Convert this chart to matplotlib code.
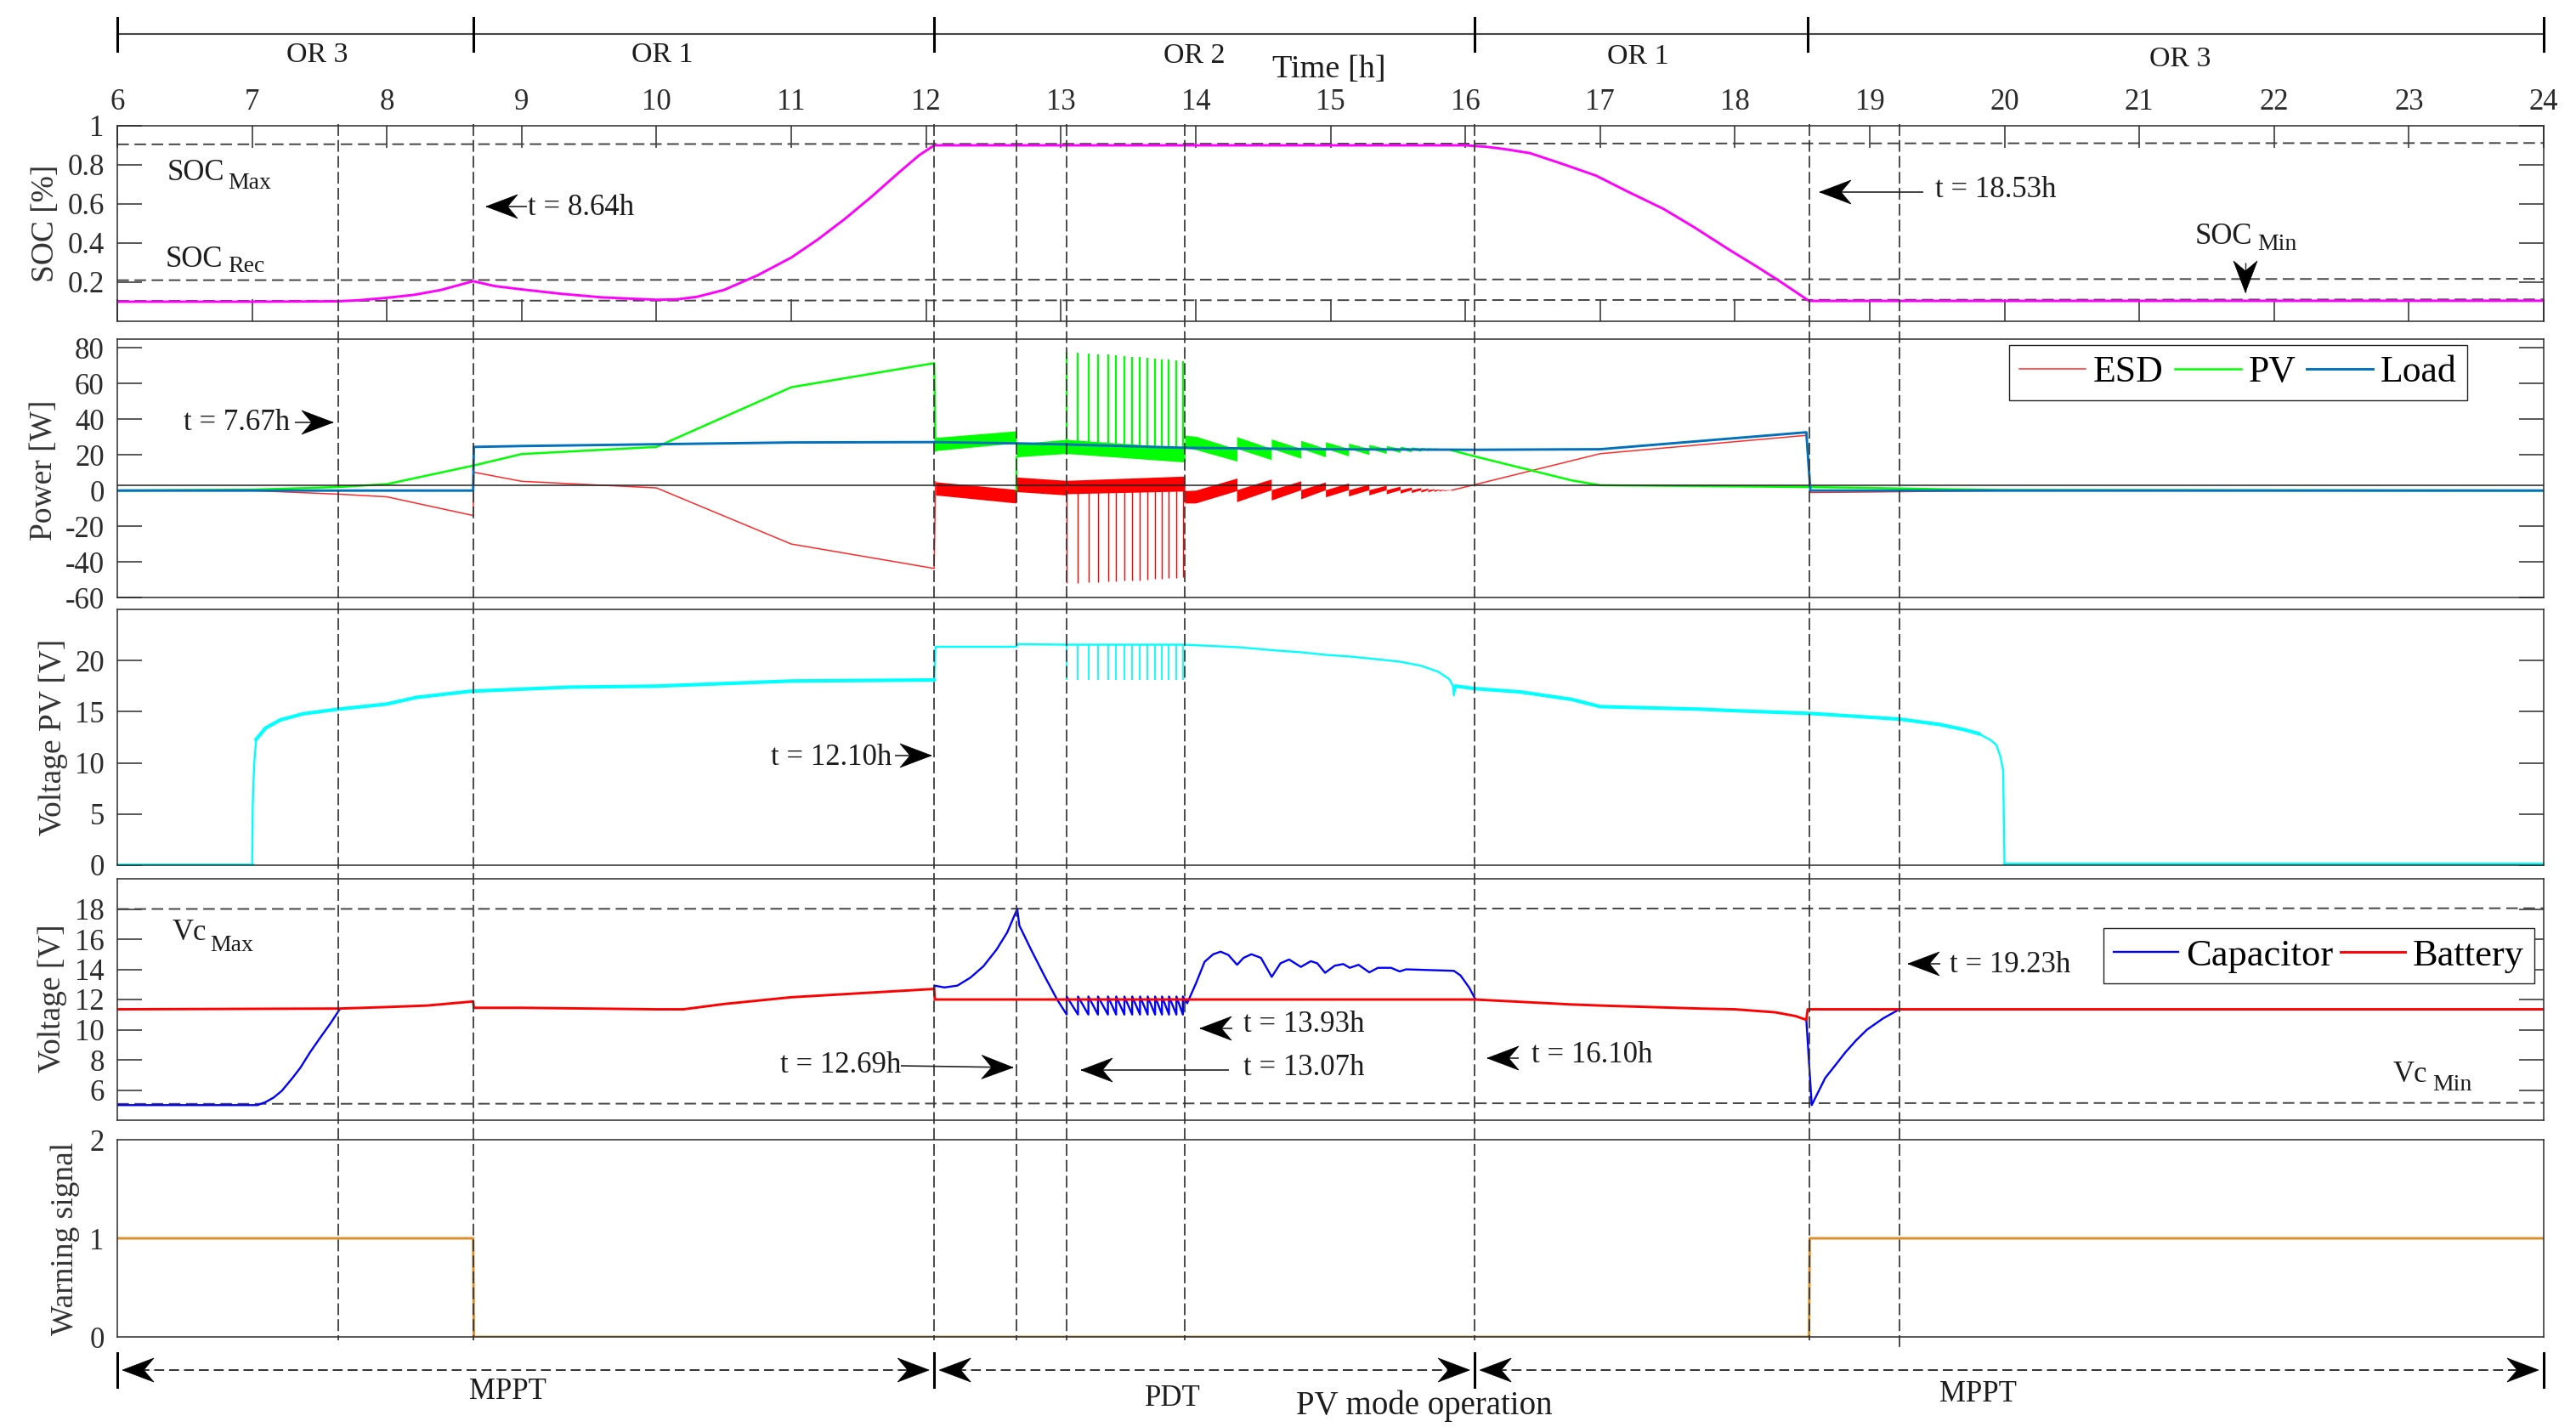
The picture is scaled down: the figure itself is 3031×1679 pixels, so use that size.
import numpy as np
import matplotlib
matplotlib.use("Agg")
import matplotlib.pyplot as plt
from matplotlib.patches import Polygon

plt.rcParams['font.family'] = ['Liberation Serif', 'DejaVu Serif']
plt.rcParams['axes.unicode_minus'] = False

W, H = 3031, 1679
X0, X1 = 138, 2993
DARK = '#2b2b2b'

# event times (dashed verticals), hours
event_t = [7.64, 8.64, 12.06, 12.67, 13.04, 13.92, 16.07, 18.55, 19.22]
segment_t = [6, 8.64, 12.06, 16.07, 18.54, 24]
segment_labels = ['OR 3', 'OR 1', 'OR 2', 'OR 1', 'OR 3']

# SOC
soc_t = [6, 7, 7.64, 7.8, 8, 8.2, 8.4, 8.64, 8.8, 9, 9.3, 9.6, 10, 10.15, 10.3, 10.5, 10.75, 11, 11.2, 11.4, 11.6,
         11.8, 11.95, 12.06, 13, 15, 16, 16.15, 16.3, 16.48, 16.72, 16.97, 17.2, 17.47, 17.7, 17.96, 18.15, 18.33,
         18.55, 20, 24]
soc_v = [0.10, 0.10, 0.102, 0.108, 0.12, 0.135, 0.16, 0.205, 0.18, 0.163, 0.14, 0.122, 0.11, 0.112, 0.125, 0.16,
         0.235, 0.326, 0.42, 0.525, 0.64, 0.762, 0.85, 0.90, 0.90, 0.90, 0.90, 0.893, 0.88, 0.86, 0.805, 0.745, 0.665,
         0.575, 0.48, 0.365, 0.285, 0.206, 0.104, 0.104, 0.105]
soc_limit_max = [0.905, 0.912]
soc_limit_rec = [0.21, 0.217]
soc_limit_min = [0.104, 0.112]

# power
pv_t = [6, 7, 7.64, 8, 8.64, 9, 10, 11, 12.06, 12.07]
pv_w = [0, 0.5, 2, 3.6, 14, 20.5, 24.5, 58, 71.5, 22.4]
pv_late_t = [15.9, 16.07, 16.79, 17, 18.53, 19, 19.5, 20, 24]
pv_late_w = [22.6, 19.2, 5.7, 3, 2, 1.5, 0.8, 0.3, 0]
esd_t = [6, 7, 7.64, 8, 8.64, 8.645, 9, 10, 11, 12.06, 12.07]
esd_w = [0, 0, -2, -3.5, -14, 10.3, 5.2, 1.5, -30, -43.7, 4.9]
esd_late_t = [15.9, 16.07, 17, 18.53, 18.56, 19, 20, 24]
esd_late_w = [0.2, 3.3, 20.7, 31, -1.1, -0.8, 0, 0]
load_t = [6, 8.64, 8.645, 9, 10, 11, 12.06, 12.67, 13.04, 13.92, 14.96, 16.07, 17, 18.53, 18.56, 24]
load_w = [0, 0, 24.5, 25, 26, 27, 27.2, 26.5, 25.9, 24, 23.2, 22.9, 23.2, 32.7, 0, 0]
zero_line_w = 3

# switching bands
pv_band_t = [[12.07, 12.67], [12.67, 13.04], [13.04, 13.92], [13.92, 14.0, 14.307]]
pv_band_top = [[29.8, 33.5], [26.3, 28.7], [28.7, 24], [31, 30.5, 23.2]]
pv_band_bot = [[22.4, 26.7], [18.9, 20.8], [20.8, 16], [24, 23, 16.5]]
esd_band_t = pv_band_t
esd_band_top = [[4.9, 0.6], [7.6, 5.7], [5.7, 8.1], [0, 0.2, 7]]
esd_band_bot = [[-2.5, -7], [-0.6, -2.5], [-1.8, -0.3], [-7, -7, 0]]
pv_drop_t = [12.67, 12.67]
pv_drop_w = [18.9, -0.6]

# spikes between 13.04 and 13.92
spike_t = [13.043, 13.127, 13.204, 13.275, 13.349, 13.41, 13.471, 13.529, 13.587, 13.644, 13.699, 13.75, 13.802,
           13.857, 13.905]
pv_spike = [78, 77.6, 77.1, 76.6, 76.3, 75.9, 75.6, 75.2, 74.8, 74.3, 74, 73.7, 73.5, 73, 72.7]
esd_spike = [-51.9, -51.7, -51.4, -51.3, -51, -51, -50.6, -50.5, -50.3, -50, -49.7, -49.5, -49.2, -48.9, -48.6]

# saw teeth after 14.3
tooth_t = [14.307, 14.564, 14.783, 14.966, 15.137, 15.288, 15.417, 15.52, 15.603, 15.674, 15.726, 15.771, 15.809,
           15.841, 15.899]
pv_tooth_top = [30, 28.7, 27.9, 27.1, 26.3, 25.6, 25, 24.6, 24.3, 24, 23.8, 23.7, 23.5, 23.3]
pv_tooth_bot = [17.1, 17.9, 18.7, 19.2, 20, 20.6, 21.1, 21.4, 21.7, 22.1, 22.4, 22.7, 23, 23.2]
pv_tooth_mid = 23.4
esd_tooth_bot = [-6.5, -5.6, -4.9, -3.8, -3.3, -2.7, -2.1, -1.7, -1.4, -1.1, -1, -0.8, -0.6, -0.3]
esd_tooth_top = [6.2, 5.2, 4.6, 4, 3.3, 2.7, 2.2, 1.7, 1.4, 1.1, 0.8, 0.6, 0.5, 0.3]
esd_tooth_mid = 0.2

# PV voltage
vpv_t = [6, 7.0, 7.005, 7.015, 7.03, 7.1, 7.21, 7.38, 7.64, 8, 8.22, 8.62, 9.35, 10, 11, 12.06, 12.07, 12.67, 12.68,
         13.04, 13.92, 14.32, 14.58, 14.79, 14.97, 15.14, 15.29, 15.51, 15.67, 15.8, 15.88, 15.91, 15.915, 15.93,
         16.07, 16.41, 16.79, 17, 17.74, 18, 18.56, 19.22, 19.52, 19.7, 19.81, 19.9, 19.94, 19.97, 19.99, 20.0, 24]
vpv_v = [0, 0, 6, 9.8, 12.3, 13.4, 14.2, 14.8, 15.25, 15.75, 16.4, 17, 17.4, 17.5, 18, 18.1, 21.35, 21.35, 21.6,
         21.55, 21.55, 21.3, 21, 20.8, 20.55, 20.4, 20.2, 19.9, 19.5, 18.9, 18.2, 17.5, 16.6, 17.5,
         17.26, 16.93, 16.2, 15.5, 15.25, 15.1, 14.83, 14.28, 13.75, 13.25, 12.85, 12.2, 11.74, 10.6, 9.25, 0.1, 0.1]
vpv_spike_low = 18.1
vpv_spike_high = 21.55

# capacitor and battery voltage, nan where the capacitor sits under the battery trace
cap_t = [6, 7.04, 7.1, 7.16, 7.22, 7.3, 7.36, 7.43, 7.5, 7.58, 7.65, np.nan, 12.06, 12.062, 12.136, 12.232, 12.329,
         12.425, 12.522, 12.602, 12.676, 12.692, 12.779, 12.876, 12.972, 13.043]
cap_v = [5, 5, 5.2, 5.5, 5.94, 6.8, 7.5, 8.5, 9.4, 10.4, 11.35, np.nan, 12.7, 12.92, 12.8, 12.92, 13.45, 14.2, 15.3,
         16.45, 18, 16.9, 15.3, 13.6, 12, 11]
cap_late_t = [13.937, 14.002, 14.066, 14.13, 14.185, 14.243, 14.307, 14.355, 14.413, 14.484, 14.564, 14.629, 14.693,
              14.78, 14.854, 14.902, 14.96, 15.031, 15.095, 15.143, 15.208, 15.288, 15.352, 15.449, 15.513, 15.561,
              15.915, 15.964, 16.028, 16.076, np.nan, 18.53, 18.57, 18.62, 18.67, 18.75, 18.82, 18.9, 18.98, 19.1,
              19.21]
cap_late_v = [11.75, 13.07, 14.5, 15, 15.17, 14.95, 14.3, 14.76, 15, 14.76, 13.5, 14.4, 14.65, 14.16, 14.54, 14.4,
              13.77, 14.24, 14.35, 14.1, 14.3, 13.8, 14.1, 14.1, 13.86, 14, 13.9, 13.6, 12.8, 12, np.nan, 10.65, 5,
              5.9, 6.8, 7.7, 8.5, 9.3, 10, 10.75, 11.3]
cap_tooth_low = 11
cap_tooth_high = 12.2
bat_t = [6, 7.65, 8, 8.3, 8.64, 8.645, 9, 10, 10.2, 10.5, 11, 12.06, 12.065, 16.07, 16.79, 17, 17.74, 18, 18.3, 18.45,
         18.53, 18.54, 24]
bat_v = [11.35, 11.4, 11.5, 11.6, 11.87, 11.45, 11.45, 11.35, 11.35, 11.7, 12.15, 12.7, 12, 12, 11.67, 11.6, 11.4,
         11.35, 11.15, 10.9, 10.65, 11.35, 11.35]
vc_max = [18.0, 18.05]
vc_min = [5.08, 5.15]

# warning signal
warn_t = [6, 8.64, 8.645, 18.55, 18.555, 24]
warn_v = [1, 1, 0, 0, 1, 1]


def add_panel(top, bottom, ylim, yticks):
    ax = fig.add_axes([X0 / W, 1 - bottom / H, (X1 - X0) / W, (bottom - top) / H])
    ax.set_xlim(6, 24)
    ax.set_ylim(*ylim)
    ax.set_xticks([])
    ax.set_yticks(yticks)
    ax.tick_params(axis='y', direction='in', length=21, width=1.1, left=True, right=True, labelsize=25, pad=11,
                   color=DARK, labelcolor=DARK)
    for s in ax.spines.values():
        s.set_linewidth(1.1)
        s.set_color(DARK)
    return ax


def hx(t):
    return X0 + (t - 6) * (X1 - X0) / 18


def arrow(x0, y0, x1, y1, lw=1.2):
    # tail to tip, pixel coordinates on the overlay
    over.plot([x0, x1], [y0, y1], color='#222222', lw=lw, solid_capstyle='butt')
    d = np.array([x1 - x0, y1 - y0], dtype=float)
    d /= np.hypot(*d)
    n = np.array([-d[1], d[0]])
    tip = np.array([x1, y1], dtype=float)
    L, w = 37, 28
    pts = [tip, tip - L * d + w / 2 * n, tip - 0.68 * L * d, tip - L * d - w / 2 * n]
    over.add_patch(Polygon(pts, closed=True, fc='black', ec='black', lw=0.5, zorder=6))


def label(x, y, s, size=25, **kw):
    # baseline anchored text
    over.text(x, y + 2, s, fontsize=size, va='baseline', color='#1c1c1c', **kw)


fig = plt.figure(figsize=(W / 100, H / 100), dpi=100)

# SOC panel
ax1 = add_panel(148, 378, (0, 1), [0.2, 0.4, 0.6, 0.8, 1])
ax1.set_yticklabels(['0.2', '0.4', '0.6', '0.8', '1'])
ax1.set_xticks(range(6, 25))
ax1.tick_params(axis='x', direction='in', length=19, width=1.1, top=True, bottom=True, labeltop=True,
                labelbottom=False, labelsize=25, pad=8, color=DARK, labelcolor=DARK)
hdash = (0, (7, 3.4))
for lim in (soc_limit_max, soc_limit_rec, soc_limit_min):
    ax1.plot([6, 24], lim, color='#444444', lw=1.4, ls=hdash)
ax1.plot(soc_t, soc_v, color='#ff00ff', lw=2.1)

# power panel
ax2 = add_panel(399, 703, (-60, 85), [-60, -40, -20, 0, 20, 40, 60, 80])
for t, top, bot in zip(pv_band_t, pv_band_top, pv_band_bot):
    ax2.fill_between(t, bot, top, color='#00ff00', lw=0)
for t, top, bot in zip(esd_band_t, esd_band_top, esd_band_bot):
    ax2.fill_between(t, bot, top, color='#ff0000', lw=0)
for i in range(len(tooth_t) - 1):
    a, b = tooth_t[i], tooth_t[i + 1]
    ax2.fill([a, b, b, a], [pv_tooth_top[i], pv_tooth_mid, pv_tooth_bot[i], pv_tooth_mid], color='#00ff00', lw=0)
    ax2.fill([a, b, b, a], [esd_tooth_bot[i], esd_tooth_mid, esd_tooth_top[i], esd_tooth_mid], color='#ff0000', lw=0)
ax2.vlines(spike_t, 20, pv_spike, color='#00ff00', lw=1.6)
ax2.vlines(spike_t, 0, esd_spike, color='#ff0000', lw=1.0)
ax2.plot(pv_drop_t, pv_drop_w, color='#00ff00', lw=1.7)
l_esd, = ax2.plot(esd_t, esd_w, color='#ff2a2a', lw=1.1, label='ESD')
ax2.plot(esd_late_t, esd_late_w, color='#ff2a2a', lw=1.1)
l_pv, = ax2.plot(pv_t, pv_w, color='#00ff00', lw=1.8, label='PV')
ax2.plot(pv_late_t, pv_late_w, color='#00ff00', lw=1.8)
ax2.axhline(zero_line_w, color='#222222', lw=1.1)
l_load, = ax2.plot(load_t, load_w, color='#0072bd', lw=2.1, label='Load')
ax2.legend(handles=[l_esd, l_pv, l_load], ncols=3, loc='upper left', bbox_to_anchor=((2364 - X0) / (X1 - X0), 1 - 7 / 304),
           fontsize=31.5, handlelength=1.78, handletextpad=0.2, columnspacing=0.3, borderaxespad=0, borderpad=0.28,
           fancybox=False, framealpha=1, edgecolor='#222222')

# PV voltage panel, heavier where the switching ripple thickens the trace
ax3 = add_panel(717, 1018, (0, 25), [0, 5, 10, 15, 20])
ax3.vlines(spike_t, vpv_spike_low, vpv_spike_high, color='#00ffff', lw=1.3)
ax3.plot(vpv_t, vpv_v, color='#00ffff', lw=1.7)
vpv_t_arr, vpv_v_arr = np.array(vpv_t), np.array(vpv_v)
for a, b in ((6, 7.0), (7.03, 12.06), (15.93, 19.81), (20.0, 24)):
    keep = (vpv_t_arr >= a) & (vpv_t_arr <= b)
    ax3.plot(vpv_t_arr[keep], vpv_v_arr[keep], color='#00ffff', lw=3.0)

# capacitor / battery panel
ax4 = add_panel(1034, 1318, (4, 20), [6, 8, 10, 12, 14, 16, 18])
for lim in (vc_max, vc_min):
    ax4.plot([6, 24], lim, color='#444444', lw=1.4, ls=hdash)
zig_t = np.repeat(spike_t, 2)
zig_v = np.tile([cap_tooth_low, cap_tooth_high], len(spike_t))
l_cap, = ax4.plot(list(cap_t) + list(zig_t) + list(cap_late_t), list(cap_v) + list(zig_v) + list(cap_late_v),
                  color='#0000ff', lw=1.7, label='Capacitor')
l_bat, = ax4.plot(bat_t, bat_v, color='#ff0000', lw=2.1, label='Battery')
ax4.legend(handles=[l_cap, l_bat], ncols=2, loc='upper left', bbox_to_anchor=((2475 - X0) / (X1 - X0), 1 - 58 / 284),
           fontsize=32, handlelength=1.7, handletextpad=0.2, columnspacing=0.2, borderaxespad=0, borderpad=0.28,
           fancybox=False, framealpha=1, edgecolor='#222222')

# warning panel
ax5 = add_panel(1341, 1573, (0, 2), [0, 1, 2])
ax5.tick_params(axis='y', length=0)
ax5.plot(warn_t, warn_v, color='#e08c24', lw=2.1)

# overlay in pixel coordinates for everything drawn across the panels
over = fig.add_axes([0, 0, 1, 1], facecolor='none')
over.set_xlim(0, W)
over.set_ylim(H, 0)
over.axis('off')

vdash = (0, (8, 2.8))
for i, t in enumerate(event_t):
    over.plot([hx(t)] * 2, [146, 1585 if i == len(event_t) - 1 else 1577], color='#333333', lw=1.25, ls=vdash)

# operating regions along the top
over.plot([hx(segment_t[0]), hx(segment_t[-1])], [39.5, 39.5], color='#444444', lw=1.5)
for t in segment_t:
    over.plot([hx(t)] * 2, [21, 60], color='black', lw=2.2)
for x, y, s in zip([373, 779, 1405, 1927, 2565], [71, 71, 72, 73, 76], segment_labels):
    label(x, y, s, size=24.5, ha='center')
label(1564, 89, 'Time [h]', size=27.5, ha='center')

# y labels
for x, y, s in [(54, 263, 'SOC [%]'), (52, 553, 'Power [W]'), (63, 867, 'Voltage PV [V]'),
                (62, 1175, 'Voltage [V]'), (77, 1457, 'Warning signal')]:
    over.text(x, y, s, fontsize=27, rotation=90, ha='center', va='center', color='#333333')

# limit names
for x, y, s, xs, ys, sub in [(197, 210, 'SOC', 268, 220, 'Max'), (195, 312, 'SOC', 268, 318, 'Rec'),
                             (2583, 285, 'SOC', 2656, 292, 'Min'), (203, 1104, 'Vc', 247, 1117, 'Max'),
                             (2816, 1271, 'Vc', 2862, 1281, 'Min')]:
    label(x, y, s)
    label(xs, ys, sub, size=20)

# time markers
label(621, 251, 't = 8.64h')
arrow(620, 243, 572, 243)
label(216, 504, 't = 7.67h')
arrow(347, 497, 392, 497)
label(2277, 230, 't = 18.53h')
arrow(2263, 226, 2141, 226)
arrow(2642, 309, 2642, 344, lw=1.0)
label(907, 898, 't = 12.10h')
arrow(1053, 889, 1096, 889)
label(918, 1260, 't = 12.69h')
arrow(1060, 1254, 1192, 1256)
label(1463, 1263, 't = 13.07h')
arrow(1446, 1259, 1272, 1259)
label(1463, 1212, 't = 13.93h')
arrow(1450, 1210, 1412, 1210)
label(1802, 1248, 't = 16.10h')
arrow(1787, 1245, 1750, 1245)
label(2294, 1142, 't = 19.23h')
arrow(2283, 1134, 2245, 1134)

# PV mode operation row
row_t = [6, 12.06, 16.07, 24]
for a, b in zip(row_t[:-1], row_t[1:]):
    xa, xb = hx(a) + 6, hx(b) - 6
    over.plot([xa + 20, xb - 20], [1612, 1612], color='#333333', lw=1.4, ls=(0, (6, 3)))
    for tip, tail in ((xa, xa + 40), (xb, xb - 40)):
        arrow(tail, 1612, tip, 1612, lw=0.1)
for t in row_t:
    over.plot([hx(t)] * 2, [1592, 1632], color='black', lw=2.2)
label(597, 1644, 'MPPT', ha='center')
label(1380, 1652, 'PDT', ha='center')
label(1676, 1662, 'PV mode operation', size=28, ha='center')
label(2327, 1647, 'MPPT', ha='center')

fig.savefig('out.png', dpi=100, facecolor='white')
